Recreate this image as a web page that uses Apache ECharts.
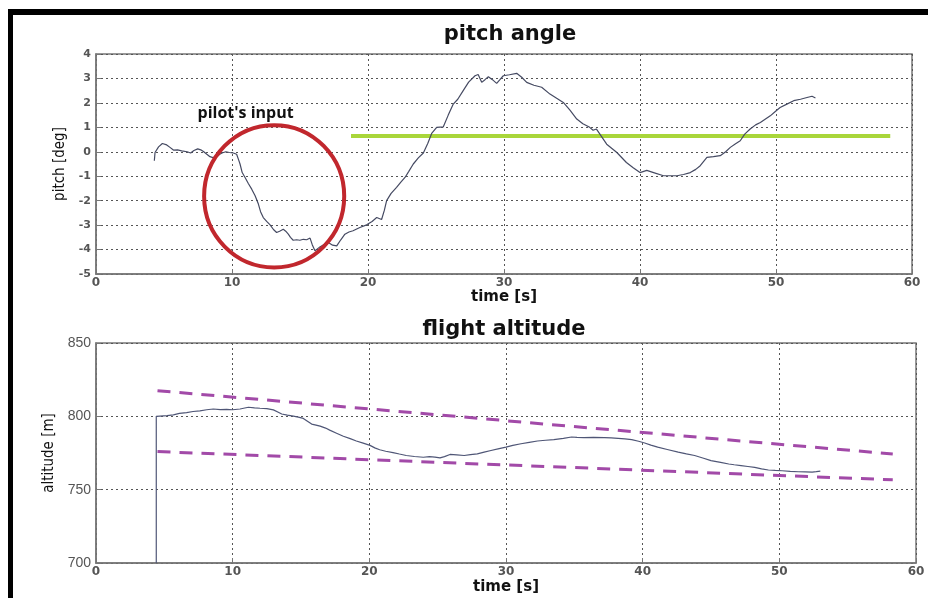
<!DOCTYPE html>
<html>
<head>
<meta charset="utf-8">
<script src="https://cdn.jsdelivr.net/npm/echarts@6/dist/echarts.min.js"></script>
<style>html,body{margin:0;padding:0;background:#fff;}#c{width:928px;height:598px;}</style>
</head>
<body>
<div id="c"></div>
<script>
// ---- data ----
const pitchTime = [4.29,4.34,4.6,4.88,5.2,5.44,5.69,6.0,6.3,6.7,6.96,7.2,7.48,7.7,7.9,8.15,8.38,8.6,8.87,9.1,9.31,9.55,9.8,10.1,10.34,10.5,10.59,10.75,10.96,11.2,11.45,11.7,11.94,12.1,12.3,12.55,12.8,13.05,13.28,13.5,13.77,13.95,14.14,14.3,14.5,14.75,14.99,15.25,15.49,15.74,15.9,16.1,16.4,16.8,17.08,17.4,17.7,18.0,18.3,18.6,18.9,19.4,19.9,20.3,20.64,21.0,21.2,21.37,21.7,22.1,22.4,22.72,23.0,23.33,23.7,24.07,24.4,24.68,25.05,25.54,25.9,26.27,26.6,27.0,27.4,27.87,28.1,28.36,28.6,28.85,29.15,29.46,29.7,29.95,30.4,30.93,31.3,31.67,32.2,32.77,33.38,33.9,34.36,34.85,35.35,35.8,36.3,36.55,36.8,37.2,37.55,38.3,39.0,39.5,40.0,40.5,41.0,41.73,42.2,42.71,43.2,43.7,44.1,44.43,44.92,45.4,45.9,46.3,46.64,47.0,47.37,47.7,48.1,48.5,48.85,49.2,49.58,49.95,50.3,50.8,51.3,51.8,52.28,52.65,52.9];
const pitchValue = [-0.37,-0.03,0.2,0.34,0.28,0.18,0.07,0.08,0.04,0.0,-0.05,0.05,0.12,0.08,0.01,-0.1,-0.2,-0.24,-0.2,-0.1,-0.04,0.0,-0.03,-0.05,-0.1,-0.35,-0.5,-0.85,-1.05,-1.3,-1.53,-1.8,-2.14,-2.45,-2.69,-2.85,-2.99,-3.18,-3.3,-3.25,-3.17,-3.25,-3.37,-3.5,-3.62,-3.6,-3.62,-3.58,-3.6,-3.53,-3.8,-4.05,-3.92,-3.78,-3.71,-3.82,-3.85,-3.6,-3.37,-3.28,-3.23,-3.1,-2.99,-2.85,-2.69,-2.77,-2.4,-2.0,-1.7,-1.46,-1.25,-1.05,-0.8,-0.5,-0.25,-0.05,0.35,0.75,1.0,1.02,1.5,1.95,2.15,2.5,2.85,3.11,3.16,2.84,2.95,3.07,2.95,2.8,2.95,3.11,3.15,3.21,3.05,2.84,2.72,2.64,2.36,2.18,2.02,1.7,1.34,1.15,1.0,0.88,0.93,0.6,0.31,-0.03,-0.44,-0.65,-0.85,-0.76,-0.85,-0.98,-0.98,-0.98,-0.93,-0.85,-0.72,-0.57,-0.23,-0.2,-0.16,0.0,0.18,0.32,0.45,0.72,0.93,1.1,1.2,1.33,1.47,1.65,1.81,1.95,2.09,2.15,2.22,2.27,2.2];

const altTime = [4.41,4.41,4.68,5.2,5.66,6.1,6.63,7.1,7.6,8.1,8.58,9.1,9.56,10.0,10.54,11.15,11.6,12.0,12.5,12.98,13.3,13.59,14.0,14.44,14.8,15.17,15.5,15.78,16.1,16.4,16.8,17.1,17.6,18.1,18.6,19.05,19.55,20.05,20.4,20.76,21.2,21.73,22.2,22.7,23.3,23.95,24.4,24.8,25.17,25.5,25.9,26.4,26.94,27.4,27.9,28.4,28.9,29.5,30.0,30.5,31.1,31.7,32.3,32.9,33.5,34.2,34.8,35.2,35.7,36.4,37.2,37.7,38.2,38.7,39.2,39.7,40.15,40.6,41.1,41.8,42.6,43.2,43.8,44.4,45.0,45.7,46.3,46.7,47.2,47.7,48.2,48.7,49.2,49.7,50.2,50.8,51.4,51.9,52.4,52.7,53.0];
const altValue = [700,800,800.2,800.5,801,802,802.5,803.3,803.7,804.5,805,804.6,804.8,804.5,805,806.2,805.8,805.5,805.2,804.4,803,801.6,800.8,800.2,799.5,798.6,796.5,794.7,794,793.3,792,790.6,788.5,786.4,784.8,783.2,781.7,780.2,778.5,777.2,776.2,775.3,774.3,773.3,772.6,772.1,772.5,772.2,771.7,772.5,774,773.7,773.3,773.9,774.4,775.6,776.7,778,779,780.2,781.3,782.3,783.2,783.7,784.1,785,785.9,785.6,785.5,785.6,785.5,785.3,785,784.6,784.1,783,781.8,780.4,779,777.4,775.6,774.4,773.3,771.6,769.8,768.6,767.5,767,766.4,765.8,765.2,764.2,763.4,763.1,762.9,762.5,762.2,762.1,762,762.3,762.7];

const upperBound = [[4.5, 817.5], [58.3, 774.3]];
const lowerBound = [[4.5, 776.0], [58.3, 756.7]];
const referencePitch = [[18.75, 0.65], [58.4, 0.65]];
const inputEllipse = [[13.1, -1.82, 5.15, 2.91]]; // center t, center pitch, radius t, radius pitch
const annotation = [[11.0, 1.56]];
const annotationText = "pilot's input";

const xTicks = [0, 10, 20, 30, 40, 50, 60];
const pitchTicks = [-5, 4];
const altTicks = [700, 850];

const titles = ['pitch angle', 'flight altitude'];
const xName = 'time [s]';
const yNames = ['pitch [deg]', 'altitude [m]'];

// ---- chart ----
const zip = (a, b) => a.map((v, i) => [v, b[i]]);
const chart = echarts.init(document.getElementById('c'), null, {renderer: 'canvas'});

const gridLine = {show: true, lineStyle: {color: '#555', type: [2, 3], width: 1}};
const axisLine = {show: true, onZero: false, lineStyle: {color: '#777', width: 1.5}};
const tick = {show: true, inside: true, length: 5, lineStyle: {color: '#777'}};

chart.setOption({
  animation: false,
  backgroundColor: '#fff',
  title: [
    {text: titles[0], left: 510, top: 35, textAlign: 'center', textVerticalAlign: 'middle', padding: 0,
     textStyle: {fontFamily: 'DejaVu Sans', fontWeight: 'bold', fontSize: 21, color: '#111'}},
    {text: titles[1], left: 504, top: 330, textAlign: 'center', textVerticalAlign: 'middle', padding: 0,
     textStyle: {fontFamily: 'DejaVu Sans', fontWeight: 'bold', fontSize: 21, color: '#111'}}
  ],
  graphic: [
    {type: 'rect', shape: {x: 8, y: 9, width: 920, height: 6}, style: {fill: '#000'}, silent: true},
    {type: 'rect', shape: {x: 8, y: 9, width: 5, height: 589}, style: {fill: '#000'}, silent: true}
  ],
  grid: [
    {left: 96, right: 16, top: 54, height: 220, show: true, borderColor: '#777', borderWidth: 1.5, backgroundColor: '#fff'},
    {left: 96, right: 12, top: 343, height: 220, show: true, borderColor: '#777', borderWidth: 1.5, backgroundColor: '#fff'}
  ],
  xAxis: [
    {type: 'value', gridIndex: 0, min: xTicks[0], max: xTicks[xTicks.length - 1], interval: 10,
     name: xName, nameLocation: 'middle', nameGap: 16,
     nameTextStyle: {fontFamily: 'DejaVu Sans', fontWeight: 'bold', fontSize: 15, color: '#111'},
     axisLine, axisTick: tick, splitLine: gridLine,
     axisLabel: {margin: 3, fontFamily: 'DejaVu Sans', fontWeight: 'bold', fontSize: 12, color: '#555'}},
    {type: 'value', gridIndex: 1, min: xTicks[0], max: xTicks[xTicks.length - 1], interval: 10,
     name: xName, nameLocation: 'middle', nameGap: 17,
     nameTextStyle: {fontFamily: 'DejaVu Sans', fontWeight: 'bold', fontSize: 15, color: '#111'},
     axisLine, axisTick: tick, splitLine: gridLine,
     axisLabel: {margin: 3, fontFamily: 'DejaVu Sans', fontWeight: 'bold', fontSize: 12, color: '#555'}}
  ],
  yAxis: [
    {type: 'value', gridIndex: 0, min: pitchTicks[0], max: pitchTicks[1], interval: 1,
     name: yNames[0], nameLocation: 'middle', nameGap: 23,
     nameTextStyle: {fontFamily: 'DejaVu Sans Condensed', fontSize: 15, color: '#111'},
     axisLine, axisTick: tick, splitLine: gridLine,
     axisLabel: {margin: 5, fontFamily: 'DejaVu Sans', fontWeight: 'bold', fontSize: 11, color: '#555'}},
    {type: 'value', gridIndex: 1, min: altTicks[0], max: altTicks[1], interval: 50,
     name: yNames[1], nameLocation: 'middle', nameGap: 39,
     nameTextStyle: {fontFamily: 'DejaVu Sans Condensed', fontSize: 15, color: '#111'},
     axisLine, axisTick: tick, splitLine: gridLine,
     axisLabel: {margin: 5, fontFamily: 'Liberation Sans', fontSize: 14, color: '#555'}}
  ],
  series: [
    {type: 'line', xAxisIndex: 0, yAxisIndex: 0, data: referencePitch, symbol: 'none',
     lineStyle: {color: '#a9d63a', width: 4}, z: 3},
    {type: 'line', xAxisIndex: 0, yAxisIndex: 0, data: zip(pitchTime, pitchValue), symbol: 'none',
     lineStyle: {color: '#454a62', width: 1.2}, z: 4},
    {type: 'custom', xAxisIndex: 0, yAxisIndex: 0, data: inputEllipse, z: 5, clip: false,
     encode: {x: 0, y: 1},
     renderItem: function (params, api) {
       const c = api.coord([api.value(0), api.value(1)]);
       const s = api.size([api.value(2), api.value(3)]);
       return {type: 'ellipse', shape: {cx: c[0], cy: c[1], rx: s[0], ry: s[1]},
               style: {fill: null, stroke: '#c1272d', lineWidth: 4}};
     }},
    {type: 'scatter', xAxisIndex: 0, yAxisIndex: 0, data: annotation, symbolSize: 0, z: 6,
     itemStyle: {opacity: 1},
     label: {show: true, position: 'inside', formatter: annotationText,
             fontFamily: 'Open Sans', fontWeight: 'bold', fontSize: 16, color: '#111', opacity: 1}},
    {type: 'line', xAxisIndex: 1, yAxisIndex: 1, data: upperBound, symbol: 'none',
     lineStyle: {color: '#a24aa8', width: 3, type: [13, 9]}, z: 3},
    {type: 'line', xAxisIndex: 1, yAxisIndex: 1, data: lowerBound, symbol: 'none',
     lineStyle: {color: '#a24aa8', width: 3, type: [13, 9]}, z: 3},
    {type: 'line', xAxisIndex: 1, yAxisIndex: 1, data: zip(altTime, altValue), symbol: 'none',
     lineStyle: {color: '#4f5676', width: 1.2}, z: 4}
  ]
});
</script>
</body>
</html>
